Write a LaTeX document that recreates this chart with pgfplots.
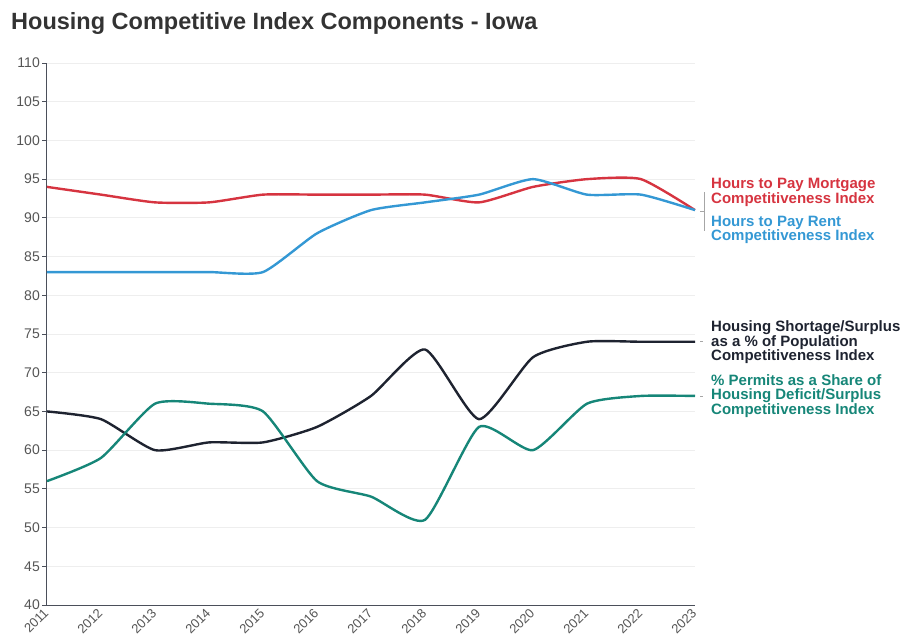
\documentclass[border=0pt]{standalone}
\usepackage{pgfplots}
\pgfplotsset{compat=1.18}
\usepackage{fontspec}
\setmainfont{Liberation Sans}
\definecolor{cred}{RGB}{214,52,64}
\definecolor{cblue}{RGB}{52,152,212}
\definecolor{cdark}{RGB}{30,35,48}
\definecolor{cteal}{RGB}{22,134,120}
\definecolor{ctext}{RGB}{85,85,85}
\definecolor{cgrid}{RGB}{238,238,238}
\begin{document}
\begin{tikzpicture}
\path (0pt,0pt) rectangle (904pt,638pt);
\node[anchor=west,font=\bfseries\fontsize{23.5}{26}\selectfont,text=black!80,inner sep=0pt] at (11pt,615pt) {Housing Competitive Index Components - Iowa};
\begin{axis}[
  at={(47pt,33pt)}, anchor=south west,
  scale only axis, width=648pt, height=542pt,
  xmin=2011, xmax=2023, ymin=40, ymax=110,
  xtick={2011,...,2023}, ytick={40,45,...,110},
  xticklabel style={rotate=45, anchor=east, font=\fontsize{13}{13}\selectfont, text=ctext, inner sep=1pt},
  yticklabel style={font=\fontsize{14}{13}\selectfont, text=ctext, inner sep=2pt},
  /pgf/number format/assume math mode=true,
  xticklabel={\pgfmathprintnumber[1000 sep={}]{\tick}},
  axis x line*=bottom, axis y line*=left,
  axis line style={cdark!80, line width=1pt},
  x axis line style={-}, y axis line style={-},
  ymajorgrids, grid style={cgrid, line width=0.8pt},
  major tick length=5pt,
  xtick style={draw=none},
  ytick style={cdark!80, line width=0.8pt},
  tick align=outside,
  clip=false,
  every axis plot/.append style={line width=2.4pt, smooth, tension=0.35, mark=none},
]
\addplot[cred] coordinates {(2011,94)(2012,93)(2013,92)(2014,92)(2015,93)(2016,93)(2017,93)(2018,93)(2019,92)(2020,94)(2021,95)(2022,95)(2023,91)};
\addplot[cblue] coordinates {(2011,83)(2012,83)(2013,83)(2014,83)(2015,83)(2016,88)(2017,91)(2018,92)(2019,93)(2020,95)(2021,93)(2022,93)(2023,91)};
\addplot[cdark] coordinates {(2011,65)(2012,64)(2013,60)(2014,61)(2015,61)(2016,63)(2017,67)(2018,73)(2019,64)(2020,72)(2021,74)(2022,74)(2023,74)};
\addplot[cteal] coordinates {(2011,56)(2012,59)(2013,66)(2014,66)(2015,65)(2016,56)(2017,54)(2018,51)(2019,63)(2020,60)(2021,66)(2022,67)(2023,67)};
% connectors
\draw[gray!70, line width=0.7pt] ([xshift=9pt]axis cs:2023,93.3) -- ([xshift=9pt]axis cs:2023,88.3);
\draw[gray!70, line width=0.7pt] ([xshift=5pt]axis cs:2023,90.8) -- ([xshift=9pt]axis cs:2023,90.8);
\draw[gray!70, line width=0.7pt] ([xshift=5pt]axis cs:2023,74) -- ([xshift=8pt]axis cs:2023,74);
\draw[gray!70, line width=0.7pt] ([xshift=5pt]axis cs:2023,67) -- ([xshift=8pt]axis cs:2023,67);
% labels
\node[anchor=west, align=left, text=cred, font=\bfseries\fontsize{15}{14}\selectfont, inner sep=0pt] at ([xshift=16pt]axis cs:2023,93.3) {Hours to Pay Mortgage\\Competitiveness Index};
\node[anchor=west, align=left, text=cblue, font=\bfseries\fontsize{15}{14}\selectfont, inner sep=0pt] at ([xshift=16pt]axis cs:2023,88.4) {Hours to Pay Rent\\Competitiveness Index};
\node[anchor=west, align=left, text=cdark, font=\bfseries\fontsize{15}{14}\selectfont, inner sep=0pt] at ([xshift=16pt]axis cs:2023,74) {Housing Shortage/Surplus\\as a \% of Population\\Competitiveness Index};
\node[anchor=west, align=left, text=cteal, font=\bfseries\fontsize{15}{14}\selectfont, inner sep=0pt] at ([xshift=16pt]axis cs:2023,67) {\% Permits as a Share of\\Housing Deficit/Surplus\\Competitiveness Index};
\end{axis}
\end{tikzpicture}
\end{document}
